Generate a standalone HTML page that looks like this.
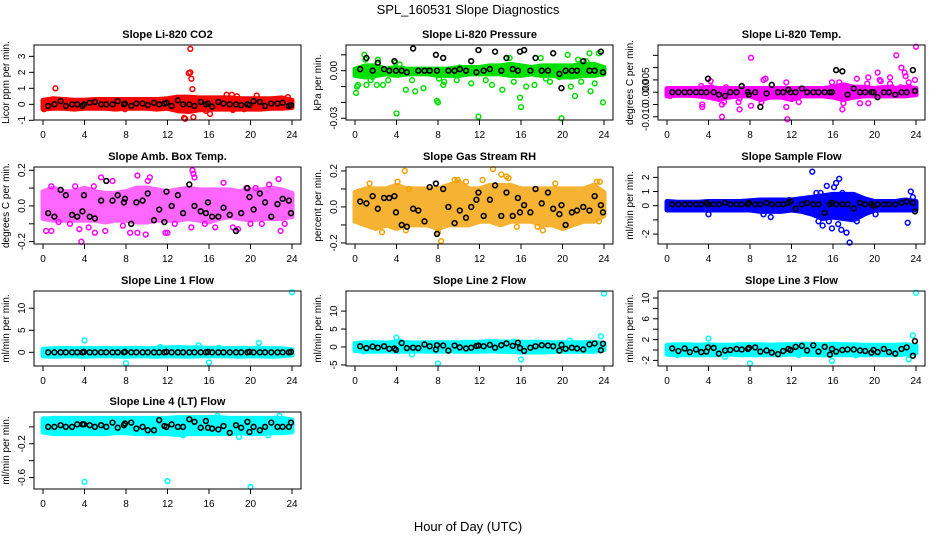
<!DOCTYPE html>
<html><head><meta charset="utf-8"><style>
html,body{margin:0;padding:0;background:#fff}
svg{display:block;font-family:"Liberation Sans",sans-serif}
</style></head><body>
<svg id="chart" width="936" height="540" viewBox="0 0 936 540" xmlns="http://www.w3.org/2000/svg">
<defs>
<pattern id="rhpat" width="2" height="2" patternUnits="userSpaceOnUse">
<rect width="2" height="2" fill="#ffd000"/><rect width="1" height="1" fill="#ff3000"/><rect x="1" y="1" width="1" height="1" fill="#ffb000"/>
</pattern>
</defs>
<text x="468" y="14" text-anchor="middle" font-size="13">SPL_160531  Slope Diagnostics</text>
<text x="468" y="531" text-anchor="middle" font-size="13">Hour of Day (UTC)</text>
</svg>
<script>
const hours = [0,1,2,3,4,5,6,7,8,9,10,11,12,13,14,15,16,17,18,19,20,21,22,23,24];
const xTicks = [0,4,8,12,16,20,24];
const blackX = [0.5,1.1,1.7,2.2,2.8,3.3,3.8,3.95,4.5,5.0,5.6,6.1,6.7,7.2,7.8,7.9,8.5,9.0,9.6,10.1,10.7,11.2,11.7,11.9,12.4,13.0,13.5,14.1,14.6,15.2,15.7,15.9,16.3,16.9,17.4,18.0,18.6,19.1,19.7,19.9,20.3,20.9,21.4,22.0,22.6,23.1,23.7,23.9];

const co2Lo = [-0.3,-0.25,-0.25,-0.3,-0.25,-0.25,-0.25,-0.3,-0.25,-0.25,-0.25,-0.3,-0.25,-0.4,-0.45,-0.35,-0.3,-0.3,-0.3,-0.3,-0.3,-0.3,-0.25,-0.25,-0.2];
const co2Hi = [0.25,0.35,0.3,0.25,0.25,0.3,0.3,0.3,0.3,0.3,0.3,0.3,0.35,0.45,0.45,0.4,0.4,0.4,0.4,0.35,0.35,0.35,0.35,0.4,0.25];
const co2OutX = [0.1,1.2,7.9,13.6,13.7,14.2,14.2,14.3,14.4,14.5,16.1,17.7,18.2,18.7,19.4,20.6,23.6,14.05,15.7,18.3];
const co2OutY = [-0.3,1.0,-0.3,-0.85,-0.9,3.47,2.0,1.6,0.95,-0.8,-0.6,0.6,0.6,0.5,-0.3,0.55,0.45,1.95,-0.4,-0.35];
const co2Black = [-0.1,0,0.2,-0.1,0,0,-0.1,0,0.1,0.15,0,0,0,0.2,0,0.05,-0.1,0.05,0.05,-0.05,0.1,0,0.05,0.1,-0.1,0.25,0,0,-0.1,0.15,0,0.05,-0.15,0.15,0.05,0,0,-0.05,0,-0.05,0.2,0.15,-0.1,0.05,0.05,0.1,-0.1,-0.05];

const presLo = [-0.003,-0.004,-0.003,-0.002,-0.003,-0.002,-0.002,-0.002,-0.003,-0.003,-0.003,-0.002,-0.002,-0.002,-0.002,-0.003,-0.003,-0.002,-0.003,-0.003,-0.004,-0.004,-0.003,-0.003,-0.002];
const presHi = [0.001,0.003,0.003,0.001,0.002,0.001,0.001,0.001,0.001,0.001,0.002,0.002,0.002,0.003,0.003,0.004,0.003,0.002,0.003,0.003,0.003,0.003,0.004,0.004,0.002];
const presOutX = [0.1,0.2,0.3,0.9,1.0,1.1,1.5,1.7,2.1,2.2,2.7,3.2,3.9,4.0,4.3,4.5,4.9,5.5,5.8,6.6,7.9,8.0,8.1,8.5,8.6,9.8,10.1,11.2,11.9,12.6,13.2,14.2,14.9,15.3,15.9,16.0,16.5,17.3,17.9,18.4,18.8,19.9,20.5,20.8,21.2,21.5,21.8,22.6,22.7,23.1,23.5,23.9,19.7,22.3];
const presOutY = [-0.014,-0.010,-0.009,0.010,0.007,-0.009,-0.006,-0.004,-0.009,0.007,-0.009,-0.006,0.005,-0.027,0.004,-0.002,-0.012,-0.006,-0.013,-0.011,-0.019,-0.020,-0.005,-0.009,-0.007,-0.006,0.002,-0.008,-0.029,-0.006,-0.009,-0.012,0.008,-0.007,-0.017,-0.023,-0.010,-0.009,0.008,-0.005,-0.007,-0.030,0.010,-0.010,-0.016,0.007,-0.007,0.011,-0.013,-0.008,0.011,-0.020,-0.004,0.006];
const presBlack = [0.001,0.008,0.000,0.005,0.001,0.000,0.006,0.000,0.000,-0.001,0.014,0.000,0.000,0.000,0.010,0.000,0.008,0.000,0.000,0.001,0.000,0.006,-0.001,0.013,0.000,0.001,0.012,0.000,0.008,0.001,0.000,0.012,0.013,0.000,0.008,0.000,0.000,0.011,-0.002,-0.011,0.000,0.000,0.000,0.006,0.000,0.000,0.012,-0.001];

const tempLo = [-0.0015,-0.0012,-0.0012,-0.0015,-0.002,-0.003,-0.002,-0.0015,-0.0015,-0.003,-0.002,-0.002,-0.003,-0.0015,-0.0015,-0.0015,-0.002,-0.003,-0.002,-0.0015,-0.0015,-0.0015,-0.0015,-0.0015,-0.001];
const tempHi = [0.0015,0.0015,0.0015,0.0015,0.002,0.0015,0.0015,0.0015,0.0015,0.0015,0.0015,0.0015,0.0015,0.0015,0.0015,0.0015,0.002,0.003,0.002,0.002,0.0015,0.002,0.0015,0.002,0.0015];
const tempOutX = [0.3,3.3,3.4,3.4,4.2,4.3,5.3,5.3,5.5,5.7,6.9,7.0,7.0,8.1,8.1,9.3,9.5,9.1,9.3,11.5,11.6,11.5,12.7,15.9,16.6,16.9,17.0,16.7,18.3,18.6,19.4,19.4,19.3,20.3,20.5,21.5,21.5,21.7,22.1,22.5,22.6,22.9,23.0,23.3,23.4,24.0,23.9,20.6];
const tempOutY = [-0.0015,0.0025,-0.005,-0.006,0.0045,0.002,-0.010,-0.005,-0.004,0.002,-0.004,-0.007,-0.0025,0.014,-0.0055,0.005,0.0055,-0.004,-0.002,-0.006,-0.011,0.004,-0.004,0.004,0.004,-0.007,-0.0045,0.0025,0.0055,-0.0045,0.006,-0.0045,0.0035,0.008,0.005,0.006,0.0035,0.002,0.015,0.002,0.010,0.008,0.0065,0.004,0.002,0.0185,0.005,0.0045];
const tempBlack = [0,0,0,0,0,0,0,0.0055,0,-0.001,-0.0015,0,0,0.0025,0,-0.001,0,-0.006,-0.0005,0.003,0,0,0.001,0,0,0.0015,0,0,0,0,0,0,0.009,0.0085,-0.001,0.0015,0,0,0,0,-0.002,0,0,-0.001,0,0,0.009,0.0005];

const boxLo = [-0.07,-0.08,-0.08,-0.08,-0.08,-0.08,-0.09,-0.08,-0.08,-0.09,-0.09,-0.08,-0.08,-0.08,-0.07,-0.08,-0.09,-0.07,-0.06,-0.07,-0.08,-0.07,-0.07,-0.07,-0.06];
const boxHi = [0.08,0.1,0.08,0.08,0.1,0.08,0.07,0.07,0.08,0.1,0.1,0.09,0.08,0.09,0.1,0.09,0.09,0.09,0.09,0.08,0.09,0.09,0.1,0.09,0.07];
const boxOutX = [0.3,0.8,0.8,1.5,2.6,3.1,3.5,3.7,4.4,4.9,5.0,5.6,6.0,6.7,7.7,8.4,9.1,9.1,9.9,10.3,10.1,11.8,12.7,14.4,14.6,14.5,14.3,15.6,16.6,17.4,18.3,19.6,20.0,20.5,21.1,21.8,22.7,22.9,23.3,18.8,12.0];
const boxOutY = [-0.14,-0.14,0.11,-0.09,-0.1,0.11,-0.13,-0.2,-0.12,0.11,-0.15,0.16,-0.14,0.14,-0.11,-0.15,-0.15,0.17,-0.16,0.16,0.14,-0.15,-0.1,0.2,0.16,0.18,-0.12,-0.1,-0.12,0.13,-0.12,0.1,-0.1,0.1,-0.1,0.12,0.15,-0.14,-0.1,-0.13,-0.15];
const boxBlack = [-0.04,-0.06,0.09,0.06,-0.05,-0.06,-0.03,0.06,-0.06,-0.07,0.03,0.14,0.03,0.06,0.02,0.04,-0.1,0.02,0.03,0.07,-0.08,-0.02,-0.09,0.08,0.0,0.06,-0.04,0.12,0.0,-0.03,-0.04,0.02,-0.06,-0.06,-0.01,-0.05,-0.14,-0.04,0.1,0.05,-0.02,0.07,0.02,-0.06,0.01,0.04,0.03,-0.04];

const rhLo = [-0.08,-0.1,-0.12,-0.1,-0.12,-0.1,-0.1,-0.1,-0.12,-0.1,-0.1,-0.1,-0.08,-0.08,-0.1,-0.08,-0.08,-0.08,-0.1,-0.1,-0.12,-0.1,-0.08,-0.08,-0.05];
const rhHi = [0.08,0.1,0.1,0.1,0.12,0.1,0.1,0.1,0.1,0.12,0.14,0.1,0.1,0.12,0.12,0.12,0.1,0.1,0.1,0.1,0.1,0.1,0.1,0.12,0.08];
const rhOutX = [2.6,4.8,4.9,4.1,5.2,8.3,8.0,9.6,9.9,10.7,12.3,13.3,14.1,14.6,14.8,15.6,17.6,18.1,19.3,23.3,23.6,23.5,1.4];
const rhOutY = [-0.14,0.2,-0.13,0.14,0.1,-0.19,-0.14,0.15,0.15,0.14,0.15,0.21,0.18,0.17,0.16,-0.11,-0.11,-0.13,0.13,0.14,0.14,-0.08,0.13];
const rhBlack = [0.03,0.02,0.06,-0.01,0.05,0.05,0.06,-0.03,-0.1,-0.11,-0.01,-0.02,-0.08,0.11,0.13,-0.15,0.1,0.0,-0.09,-0.02,-0.06,0.0,0.04,0.08,-0.05,0.04,0.12,-0.05,0.08,-0.05,0.05,-0.03,0.01,-0.03,0.1,0.02,0.08,-0.01,-0.04,0.01,-0.1,-0.03,-0.02,0.0,-0.02,0.06,0.01,-0.03];

const sfLo = [-0.3,-0.3,-0.3,-0.3,-0.3,-0.3,-0.3,-0.3,-0.3,-0.4,-0.4,-0.4,-0.3,-0.4,-0.6,-0.9,-0.8,-0.9,-1.0,-0.6,-0.3,-0.3,-0.3,-0.3,-0.3];
const sfHi = [0.3,0.25,0.25,0.25,0.3,0.3,0.3,0.3,0.35,0.4,0.4,0.4,0.4,0.5,0.6,0.7,0.8,0.8,0.8,0.5,0.3,0.3,0.3,0.4,0.3];
const sfOutX = [4.0,9.3,10.0,11.8,14.0,14.4,14.6,14.8,15.0,15.4,15.6,15.9,16.1,16.3,16.6,16.5,16.9,16.8,17.3,17.6,18.0,18.3,20.1,23.2,23.5,23.7,22.6];
const sfOutY = [-0.6,-0.6,-0.8,0.4,2.4,0.9,-1.1,0.9,-1.4,1.4,-1.1,-1.6,1.3,1.6,1.9,-1.3,0.9,-1.7,-1.9,-2.6,-0.9,-1.1,-0.6,-1.2,1.0,0.6,0.3];
const sfBlack = [0.1,0.1,0.1,0.1,0.1,0.1,0.2,0.1,0.1,0.1,0.2,0.1,0.1,0.1,0.1,0.2,0.1,0.1,0.2,0.1,0.1,0.1,0.2,0.3,-0.2,0.1,0.2,0.1,0.1,-0.5,0.1,0.2,0.1,0.1,0.1,-0.2,0.2,0.1,0.1,0.0,0.1,0.1,0.1,0.1,0.2,0.3,0.2,-0.4];

const l1Lo = [-0.8,-0.9,-0.8,-0.8,-0.9,-0.8,-0.8,-0.8,-0.9,-0.8,-0.8,-0.9,-0.8,-0.8,-0.9,-0.8,-0.8,-0.8,-0.8,-0.9,-0.8,-0.8,-0.9,-0.8,-0.6];
const l1Hi = [0.7,0.8,0.9,0.8,0.9,0.8,0.9,0.8,0.9,0.9,0.8,0.9,1.0,1.1,1.0,1.0,0.9,0.9,0.8,0.9,0.8,0.9,0.8,0.8,0.6];
const l1OutX = [4.0,8.0,15.0,16.0,17.0,20.8,24.0,11.3];
const l1OutY = [2.7,-2.5,1.6,-2.3,1.0,2.1,13.6,1.2];
const l1Black = [0,0,0,0,0,0,0,0.1,0,0,0,0,0,0,0,0.1,0,0,0,0,0,0,0,0.1,0,0,0,0,0,0,0,0.1,0,0,0,0,0,0,0,0.1,0,0,0,0,0,0,0,0.1];

const l2Lo = [-1.0,-1.2,-1.2,-1.1,-1.2,-1.2,-1.1,-1.2,-1.2,-1.1,-1.2,-1.2,-1.2,-1.1,-1.2,-1.3,-1.4,-1.4,-1.4,-1.3,-1.2,-1.2,-1.2,-1.2,-0.8];
const l2Hi = [1.0,1.2,1.2,1.1,1.3,1.2,1.1,1.2,1.2,1.2,1.2,1.3,1.3,1.5,1.4,1.4,1.3,1.3,1.3,1.2,1.2,1.2,1.2,1.3,1.0];
const l2OutX = [4.0,4.4,5.5,8.0,16.0,20.7,23.7,24.0,0.8,15.3];
const l2OutY = [2.6,1.5,-2.1,-4.6,-3.5,1.8,3.0,14.9,-1.2,1.5];
const l2Black = [0.2,-0.3,0.1,-0.2,0.2,-0.5,-0.4,-0.8,1.1,-0.3,-0.2,-0.3,0.7,0.2,-0.7,0.5,0.4,-1.0,0.4,-0.1,-0.4,-0.2,0.3,0.4,0.2,0.6,-0.2,0.5,1.0,0.3,1.2,-0.3,-1.1,-0.2,0.2,0.5,0.4,0.2,-1.0,0.6,-0.5,-0.2,-0.4,-0.7,0.7,1.0,-0.9,0.9];

const l3Lo = [-0.8,-0.9,-0.9,-0.9,-0.9,-0.9,-0.8,-0.9,-0.9,-0.9,-0.9,-0.9,-0.8,-0.8,-0.9,-0.9,-0.9,-0.9,-0.9,-0.9,-0.9,-0.9,-0.9,-0.8,-0.6];
const l3Hi = [0.9,1.0,1.0,0.9,1.0,0.9,0.9,1.0,1.0,1.0,0.9,1.0,1.0,1.1,1.1,1.0,1.1,1.0,1.0,0.9,0.9,0.9,0.9,1.0,0.8];
const l3OutX = [4.0,5.6,8.0,15.9,18.2,23.3,23.7,24.0,12.7,1.0,0.2];
const l3OutY = [2.2,-1.3,-2.6,-2.1,-1.0,-1.8,2.8,11.0,-1.0,-1.0,-0.5];
const l3Black = [0.3,-0.2,0.3,-0.4,0.1,-0.4,-0.3,0.5,0.4,-0.7,-0.1,0.0,0.2,0.1,0.2,0.4,0.5,-0.3,-0.1,-0.5,-0.8,-0.2,0.2,0.0,0.6,0.8,-0.1,0.9,-0.3,0.6,-0.9,0.2,-0.3,0.0,0.1,0.1,-0.1,-0.2,-0.5,0.0,-0.4,0.2,-0.4,-0.7,0.2,0.5,-1.1,1.7];

const l4Lo = [-0.06,-0.08,-0.08,-0.08,-0.08,-0.08,-0.08,-0.07,-0.07,-0.08,-0.08,-0.08,-0.08,-0.09,-0.08,-0.08,-0.08,-0.08,-0.08,-0.07,-0.08,-0.08,-0.07,-0.07,-0.06];
const l4Hi = [0.09,0.1,0.1,0.1,0.1,0.1,0.1,0.1,0.1,0.1,0.1,0.1,0.1,0.11,0.11,0.11,0.11,0.11,0.1,0.1,0.1,0.1,0.1,0.1,0.08];
const l4OutX = [1.6,4.0,12.0,20.0,13.5,18.9,21.7,14.0,22.8,16.8,0.1,3.9];
const l4OutY = [-0.07,-0.65,-0.64,-0.71,-0.1,-0.12,-0.1,0.08,0.13,0.13,0.09,-0.02];
const l4Black = [0.0,0.0,0.02,0.0,0.0,0.03,0.03,0.03,0.02,0.0,0.02,0.0,0.05,-0.01,0.02,0.04,0.05,-0.02,0.0,-0.04,-0.04,0.08,0.01,0.0,0.03,0.0,0.0,0.09,0.06,-0.01,0.07,-0.01,-0.02,-0.03,0.01,-0.07,0.02,-0.01,0.06,-0.06,0.0,-0.04,0.0,0.05,0.0,0.0,0.0,0.05];

const panels = [
 {id:'co2',row:0,col:0,title:'Slope Li-820 CO2',ylab:'Licor ppm per min.',ylim:[-0.98,3.71],ticks:[-1,0,1,2,3],labels:['-1','0','1','2','3'],color:'#ff0000',op:1,lo:co2Lo,hi:co2Hi,ox:co2OutX,oy:co2OutY,by:co2Black},
 {id:'pressure',row:0,col:1,title:'Slope Li-820 Pressure',ylab:'kPa per min.',ylim:[-0.0311,0.0162],ticks:[-0.03,-0.02,-0.01,0,0.01],labels:['-0.03','','','0.00',''],color:'#00e000',op:1,lo:presLo,hi:presHi,ox:presOutX,oy:presOutY,by:presBlack},
 {id:'li820-temp',row:0,col:2,title:'Slope Li-820 Temp.',ylab:'degrees C per min.',ylim:[-0.0113,0.0192],ticks:[-0.01,-0.005,0,0.005,0.01,0.015],labels:['-0.010','','0.000','0.005','',''],color:'#ff00ff',op:1,lo:tempLo,hi:tempHi,ox:tempOutX,oy:tempOutY,by:tempBlack},
 {id:'box-temp',row:1,col:0,title:'Slope Amb. Box Temp.',ylab:'degrees C per min.',ylim:[-0.213,0.218],ticks:[-0.2,-0.1,0,0.1,0.2],labels:['-0.2','','0.0','','0.2'],color:'#ff00ff',op:0.6,lo:boxLo,hi:boxHi,ox:boxOutX,oy:boxOutY,by:boxBlack},
 {id:'gas-rh',row:1,col:1,title:'Slope Gas Stream RH',ylab:'percent per min.',ylim:[-0.206,0.222],ticks:[-0.2,-0.1,0,0.1,0.2],labels:['-0.2','','0.0','','0.2'],color:'#f5a000',op:0.8,lo:rhLo,hi:rhHi,ox:rhOutX,oy:rhOutY,by:rhBlack},
 {id:'sample-flow',row:1,col:2,title:'Slope Sample Flow',ylab:'ml/min per min.',ylim:[-2.7,2.73],ticks:[-2,-1,0,1,2],labels:['-2','','0','1','2'],color:'#0000ff',op:1,lo:sfLo,hi:sfHi,ox:sfOutX,oy:sfOutY,by:sfBlack},
 {id:'line1-flow',row:2,col:0,title:'Slope Line 1 Flow',ylab:'ml/min per min.',ylim:[-3.1,13.9],ticks:[0,5,10],labels:['0','5','10'],color:'#00ffff',op:1,lo:l1Lo,hi:l1Hi,ox:l1OutX,oy:l1OutY,by:l1Black},
 {id:'line2-flow',row:2,col:1,title:'Slope Line 2 Flow',ylab:'ml/min per min.',ylim:[-5.3,15.6],ticks:[-5,0,5,10],labels:['-5','0','5','10'],color:'#00ffff',op:1,lo:l2Lo,hi:l2Hi,ox:l2OutX,oy:l2OutY,by:l2Black},
 {id:'line3-flow',row:2,col:2,title:'Slope Line 3 Flow',ylab:'ml/min per min.',ylim:[-3.08,11.35],ticks:[-2,0,2,4,6,8,10],labels:['-2','','2','','6','','10'],color:'#00ffff',op:1,lo:l3Lo,hi:l3Hi,ox:l3OutX,oy:l3OutY,by:l3Black},
 {id:'line4-flow',row:3,col:0,title:'Slope Line 4 (LT) Flow',ylab:'ml/min per min.',ylim:[-0.735,0.176],ticks:[-0.6,-0.4,-0.2,0],labels:['-0.6','','-0.2',''],color:'#00ffff',op:1,lo:l4Lo,hi:l4Hi,ox:l4OutX,oy:l4OutY,by:l4Black}
];

const NS='http://www.w3.org/2000/svg';
const svg=document.getElementById('chart');
const rowTop=[45,167,291,412], rowBot=[120,244,366,489];
const colLeft=[34,346,658], W=267;
function mk(tag,attrs,parent){const e=document.createElementNS(NS,tag);for(const k in attrs)e.setAttribute(k,attrs[k]);(parent||svg).appendChild(e);return e;}

panels.forEach(p=>{
  const L=colLeft[p.col],R=L+W,T=rowTop[p.row],B=rowBot[p.row];
  const xs=h=>L+9+h*(W-18)/24;
  const ys=v=>B-(v-p.ylim[0])/(p.ylim[1]-p.ylim[0])*(B-T);
  const g=mk('g',{});
  
  
  const t=mk('text',{x:(L+R)/2,y:T-7,'text-anchor':'middle','font-size':'11','font-weight':'bold'},g);
  t.textContent=p.title;
  
  
  const yl=mk('text',{x:0,y:0,transform:`translate(${L-25},${(T+B)/2}) rotate(-90)`,'text-anchor':'middle','font-size':'10'},g);
  yl.textContent=p.ylab;
  
  
  let pts=[];
  for(let i=0;i<hours.length;i++)pts.push(xs(hours[i]).toFixed(1)+','+ys(p.hi[i]).toFixed(1));
  for(let i=hours.length-1;i>=0;i--)pts.push(xs(hours[i]).toFixed(1)+','+ys(p.lo[i]).toFixed(1));
  const band=mk('polygon',{points:pts.join(' '),fill:p.color,stroke:p.color,'stroke-width':5,'stroke-linejoin':'round',opacity:p.op},g);
  
  
  for(let i=0;i<p.ox.length;i++){
    const c=mk('circle',{cx:xs(p.ox[i]),cy:ys(p.oy[i]),r:2.4,fill:'none',stroke:p.color,'stroke-width':1.5},g);
    
    
  }
  const n=Math.min(blackX.length,p.by.length);
  for(let i=0;i<n;i++){
    const c=mk('circle',{cx:xs(blackX[i]),cy:ys(p.by[i]),r:2.4,fill:'none',stroke:'#000','stroke-width':1.6},g);
    
    
  }
  const box=mk('rect',{x:L,y:T,width:W,height:B-T,fill:'none',stroke:'#000','stroke-width':1},g);
  
  
  xTicks.forEach(h=>{
    mk('line',{x1:xs(h),x2:xs(h),y1:B,y2:B+5,stroke:'#000'},g);
    const tl=mk('text',{x:xs(h),y:B+18,'text-anchor':'middle','font-size':'10'},g);
    tl.textContent=h;
    
    
  });
  p.ticks.forEach((v,i)=>{
    mk('line',{x1:L,x2:L-5,y1:ys(v),y2:ys(v),stroke:'#000'},g);
    if(p.labels[i]){
      const tl=mk('text',{x:0,y:0,transform:`translate(${L-9},${ys(v)}) rotate(-90)`,'text-anchor':'middle','font-size':'10'},g);
      tl.textContent=p.labels[i];
      
      
    }
  });
});
</script>
</body></html>
